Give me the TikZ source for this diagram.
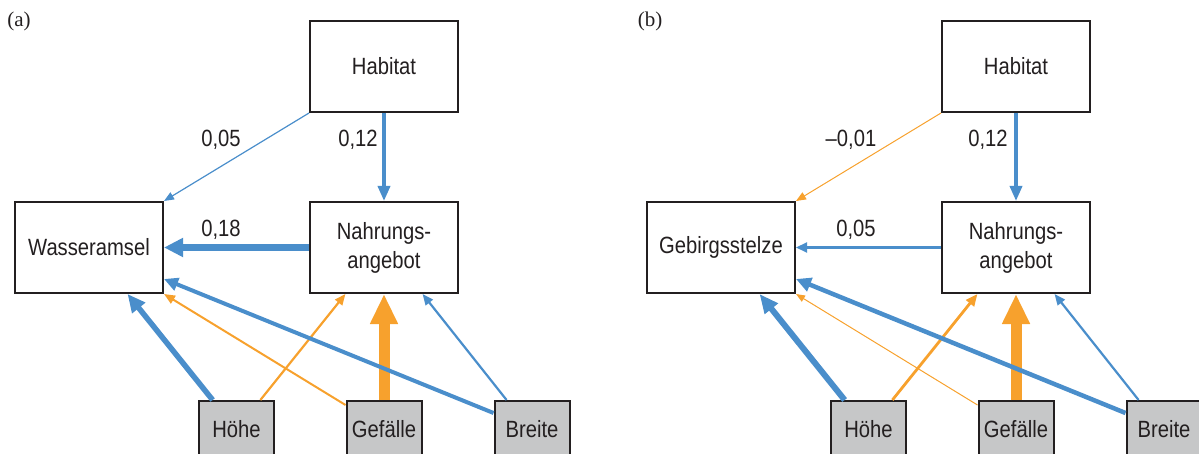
\documentclass[tikz,border=0pt]{standalone}
\usepackage{fontspec}
\newfontfamily\hv[FakeStretch=0.86]{Liberation Sans}
\newfontfamily\pserif{Liberation Serif}
\usetikzlibrary{arrows.meta,calc}
\definecolor{cb}{RGB}{74,142,203}
\definecolor{co}{RGB}{247,161,45}
\definecolor{gboxc}{RGB}{198,199,200}
\definecolor{ink}{RGB}{35,31,32}
\begin{document}
\begin{tikzpicture}[x=1pt,y=-1pt,
  box/.style={draw=ink, line width=2pt, fill=white, minimum width=148pt, minimum height=91pt, inner sep=0pt, font=\hv\fontsize{23.5}{29}\selectfont, align=center, text=ink},
  gbox/.style={box, fill=gboxc, minimum width=75pt, minimum height=56pt, anchor=north},
  num/.style={font=\hv\fontsize{23.5}{28}\selectfont, inner sep=0pt, text=ink},
  panel/.style={font=\pserif\fontsize{21}{24}\selectfont, inner sep=0pt, text=ink},
  ar/.style n args={4}{draw=#1, line width=#2, -{Triangle[length=#3,width=#4]}}
]
\useasboundingbox (0,0) rectangle (1199,454);
\clip (0,0) rectangle (1199,454);

% ---------- panel (a)
\node[box] (habA) at (384,66.5) {Habitat};
\node[box] (wasA) at (89,247.5) {Wasseramsel};
\node[box] (nahA) at (384,247.5) {Nahrungs-\\angebot};
\node[gbox] (hoeA) at (236.5,400) {Höhe};
\node[gbox] (gefA) at (384,400) {Gefälle};
\node[gbox] (breA) at (532,400) {Breite};

\draw[ar={cb}{1.2pt}{10pt}{8pt}] (habA.south west) -- (wasA.north east);
\draw[ar={cb}{3.5pt}{15pt}{12pt}] (habA.south) -- (nahA.north);
\draw[ar={cb}{6.5pt}{19pt}{18pt}] (nahA.west) -- (wasA.east);
\draw[ar={cb}{5.5pt}{18pt}{16pt}] ($(hoeA.north west)!0.19!(hoeA.north east)$) -- ($(wasA.south west)!0.757!(wasA.south east)$);
\draw[ar={co}{2.2pt}{11pt}{9pt}] ($(hoeA.north west)!0.81!(hoeA.north east)$) -- ($(nahA.south west)!0.243!(nahA.south east)$);
\draw[ar={co}{2pt}{11pt}{9pt}] ($(gefA.north west)+(0,5)$) -- (wasA.south east);
\draw[ar={co}{11pt}{30pt}{26pt}] (gefA.north) -- (nahA.south);
\draw[ar={cb}{4pt}{14pt}{13pt}] ($(breA.north west)+(0,13)$) -- ($(wasA.south east)+(0,-15)$);
\draw[ar={cb}{2.2pt}{11pt}{9pt}] ($(breA.north west)!0.17!(breA.north east)$) -- ($(nahA.south west)!0.757!(nahA.south east)$);

\node[num] (l1A) at (221,140) {0,05};
\node[num] (l2A) at (358,140) {0,12};
\node[num] (l3A) at (221,230) {0,18};
\node[panel] (pa) at (19,21) {(a)};

% ---------- panel (b)
\node[box] (habB) at (1016,66.5) {Habitat};
\node[box] (gebB) at (721,247.5) {Gebirgsstelze};
\node[box] (nahB) at (1016,247.5) {Nahrungs-\\angebot};
\node[gbox] (hoeB) at (868.5,400) {Höhe};
\node[gbox] (gefB) at (1016,400) {Gefälle};
\node[gbox] (breB) at (1164,400) {Breite};

\draw[ar={co}{1pt}{10pt}{8pt}] (habB.south west) -- (gebB.north east);
\draw[ar={cb}{3.5pt}{15pt}{12pt}] (habB.south) -- (nahB.north);
\draw[ar={cb}{2.2pt}{11pt}{10pt}] (nahB.west) -- (gebB.east);
\draw[ar={cb}{6pt}{19pt}{16pt}] ($(hoeB.north west)!0.19!(hoeB.north east)$) -- ($(gebB.south west)!0.757!(gebB.south east)$);
\draw[ar={co}{2.8pt}{12pt}{10pt}] ($(hoeB.north west)!0.81!(hoeB.north east)$) -- ($(nahB.south west)!0.243!(nahB.south east)$);
\draw[ar={co}{1pt}{9pt}{7pt}] ($(gefB.north west)+(0,5)$) -- (gebB.south east);
\draw[ar={co}{11pt}{30pt}{26pt}] (gefB.north) -- (nahB.south);
\draw[ar={cb}{4.5pt}{15pt}{14pt}] ($(breB.north west)+(0,13)$) -- ($(gebB.south east)+(0,-15)$);
\draw[ar={cb}{2.2pt}{11pt}{9pt}] ($(breB.north west)!0.17!(breB.north east)$) -- ($(nahB.south west)!0.757!(nahB.south east)$);

\node[num] (l1B) at (851,140) {–0,01};
\node[num] (l2B) at (988,140) {0,12};
\node[num] (l3B) at (856,230) {0,05};
\node[panel] (pb) at (650,21) {(b)};
\end{tikzpicture}
\end{document}
